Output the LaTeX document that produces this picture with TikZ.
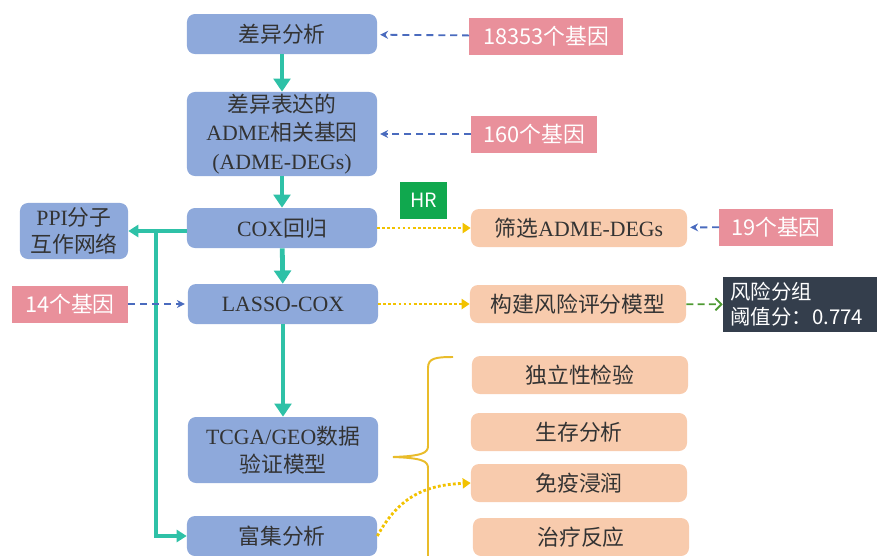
\documentclass[tikz,border=0pt]{standalone}
\usepackage{fontspec}
\setmainfont{Liberation Serif}
\newfontfamily\cjk{Noto Sans CJK SC}
\newcommand{\zh}[1]{{\cjk #1}}
\usetikzlibrary{arrows.meta}
\definecolor{boxblue}{HTML}{8EA9DB}
\definecolor{boxorange}{HTML}{F8CBAD}
\definecolor{tagpink}{HTML}{E9909B}
\definecolor{flowteal}{HTML}{2EC1A7}
\definecolor{hrgreen}{HTML}{10A84E}
\definecolor{darkpanel}{HTML}{343E4C}
\definecolor{dotyellow}{HTML}{F2C200}
\definecolor{bracegold}{HTML}{E9BC2A}
\definecolor{dashblue}{HTML}{4A6BBE}
\definecolor{dashgreen}{HTML}{4E9A32}
\definecolor{inktext}{HTML}{333333}
\begin{document}
\begin{tikzpicture}[x=0.025cm,y=-0.025cm,
	bluebox/.style={fill=boxblue,rounded corners=0.2cm,minimum width=4.75cm,minimum height=1cm,inner sep=0pt,align=center,text=inktext,font=\fontsize{15.5}{20}\selectfont},
	orangebox/.style={fill=boxorange,rounded corners=0.2cm,minimum width=5.4cm,minimum height=0.95cm,inner sep=0pt,text=inktext,font=\fontsize{15.5}{20}\selectfont},
	pinktag/.style={fill=tagpink,minimum height=0.925cm,inner sep=0pt,text=white,font=\cjk\fontsize{15.5}{20}\selectfont},
	flow/.style={flowteal,line width=3.4pt,-{Triangle[width=0.42cm,length=0.33cm]}},
	flowthin/.style={flowteal,line width=2.8pt,-{Triangle[width=0.3cm,length=0.25cm]}},
	dashlink/.style={dashblue,line width=1.3pt,dash pattern=on 5pt off 3.5pt,-{Stealth[width=0.2cm,length=0.2cm]},shorten >=2pt},
	dotlink/.style={dotyellow,line width=2pt,dash pattern=on 2pt off 1.6pt,-{Triangle[width=0.25cm,length=0.2cm]}},
	greenlink/.style={dashgreen,line width=1.3pt,dash pattern=on 5pt off 3pt,-{Straight Barb[width=0.3cm,length=0.15cm]}}]
\useasboundingbox (0,0) rectangle (877,555);
% main flow
\node[bluebox] (diff) at (282,34) {\zh{差异分析}};
\node[bluebox,minimum height=2.1cm] (adme) at (282,134) {\zh{差异表达的}\\ADME\zh{相关基因}\\(ADME-DEGs)};
\node[bluebox] (cox) at (282,228) {COX\zh{回归}};
\node[bluebox] (lasso) at (283,304) {LASSO-COX};
\node[bluebox,minimum height=1.65cm] (tcga) at (283,450) {TCGA/GEO\zh{数据}\\\zh{验证模型}};
\node[bluebox] (fuji) at (282,536) {\zh{富集分析}};
\node[bluebox,minimum width=2.7cm,minimum height=1.4cm,font=\fontsize{15.5}{19.5}\selectfont] (ppi) at (74,231) {PPI\zh{分子}\\\zh{互作网络}};
% gene counts
\node[pinktag,minimum width=3.825cm] (g18353) at (546,36) {18353个基因};
\node[pinktag,minimum width=3.125cm] (g160) at (534,134) {160个基因};
\node[pinktag,minimum width=2.825cm] (g19) at (776,227) {19个基因};
\node[pinktag,minimum width=2.9cm] (g14) at (70,304) {14个基因};
% right column
\node[orangebox] (shaixuan) at (579,228) {\zh{筛选}ADME-DEGs};
\node[orangebox] (goujian) at (578,304) {\zh{构建风险评分模型}};
\node[orangebox] (duli) at (580,375) {\zh{独立性检验}};
\node[orangebox] (shengcun) at (579,432) {\zh{生存分析}};
\node[orangebox] (mianyi) at (579,483) {\zh{免疫浸润}};
\node[orangebox] (zhiliao) at (581,537) {\zh{治疗反应}};
\node[fill=hrgreen,minimum width=1.175cm,minimum height=0.925cm,inner sep=0pt,text=white,font=\cjk\fontsize{14}{18}\selectfont] (hr) at (423.5,200.5) {HR};
\node[fill=darkpanel,minimum width=3.875cm,minimum height=1.375cm,inner sep=0pt,text=white,align=left,text width=3.5cm,font=\cjk\fontsize{14.5}{17.7}\selectfont] (panel) at (800.5,304.5) {风险分组\\阈值分：0.774};
% connectors
\draw[flow] (diff) -- (adme);
\draw[flow] (adme) -- (cox);
\draw[flow] (cox) -- (lasso);
\draw[flow] (lasso) -- (tcga);
\draw[flowthin] (cox.west |- ppi) -- (ppi.east);
\coordinate (fork) at (156,231);
\draw[flowthin] (fork) |- (fuji.west);
\draw[dashlink] (g18353) -- (diff);
\draw[dashlink] (g160) -- (adme);
\draw[dashlink] (g19) -- (shaixuan);
\draw[dashlink] (g14) -- (lasso);
\draw[dotlink] (cox) -- (shaixuan);
\draw[dotlink] (lasso) -- (goujian);
\draw[greenlink] (goujian) -- (panel);
\draw[dotlink] (fuji.east) .. controls +(22,-40) and +(-45,2) .. (mianyi.west);
% brace
\draw[bracegold,line width=1.4pt] (453,357) .. controls (436,357) and (428,358) .. (428,368) -- (428,446) .. controls (428,453) and (422,456) .. (393,457);
\draw[bracegold,line width=1.4pt] (393,457) .. controls (422,458) and (428,461) .. (428,468) -- (428,560);
\end{tikzpicture}
\end{document}
